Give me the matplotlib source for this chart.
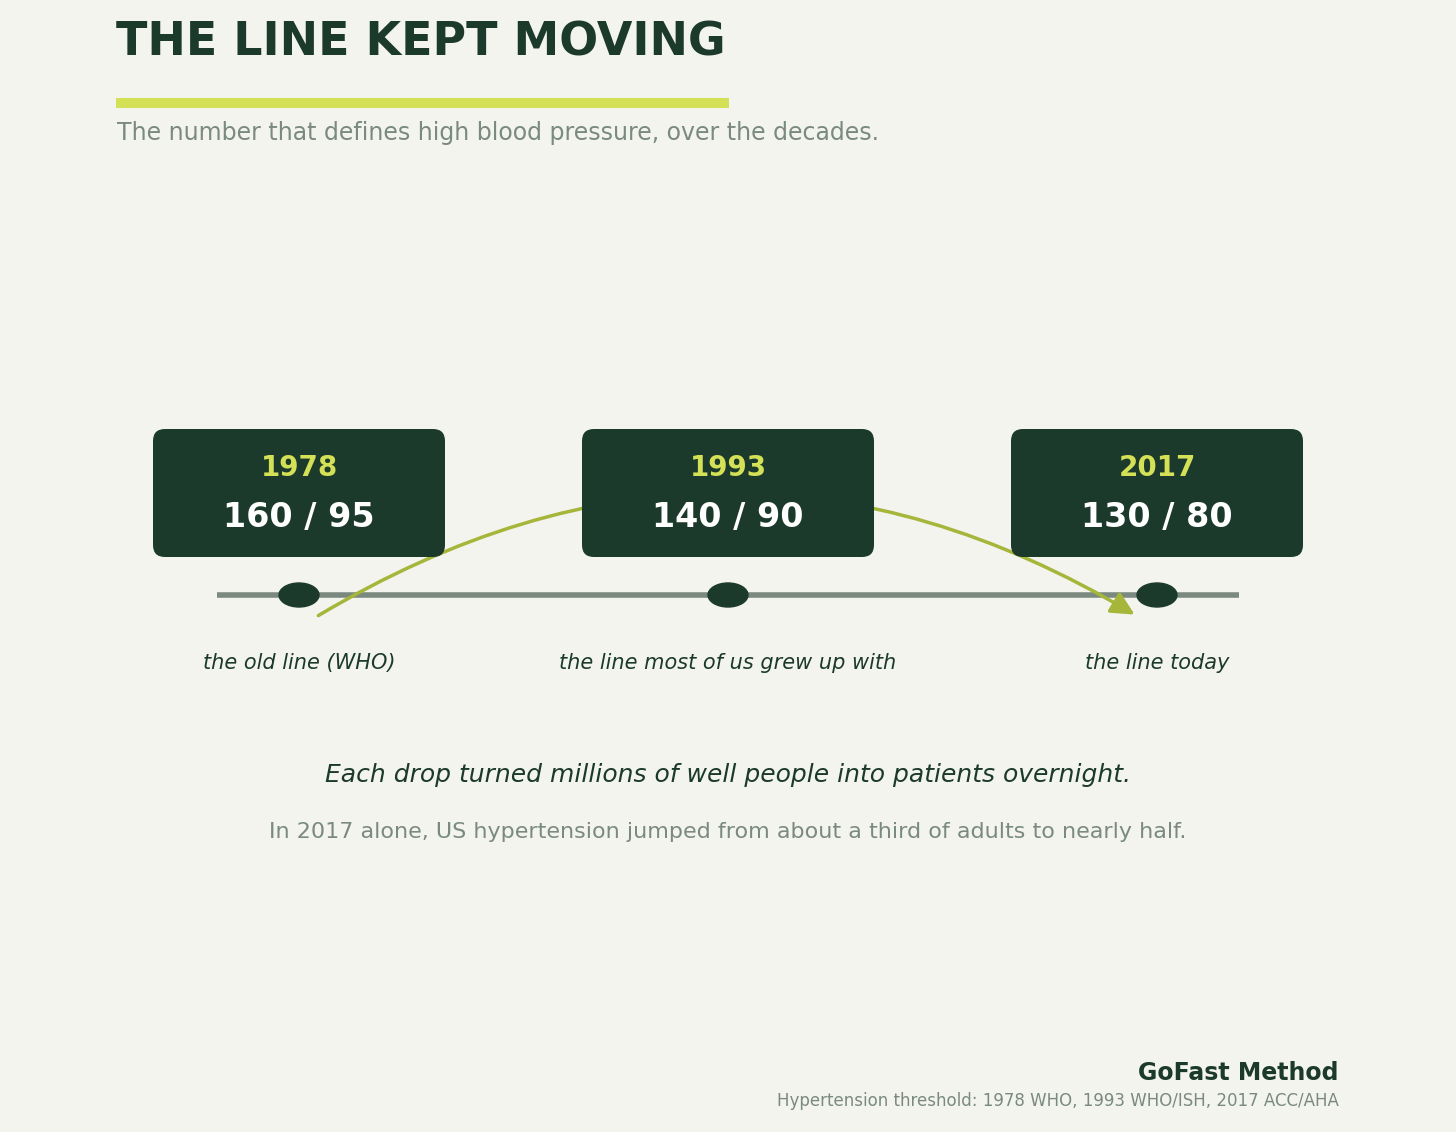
import matplotlib
matplotlib.use("Agg")
import matplotlib.pyplot as plt
from matplotlib.patches import FancyBboxPatch, Ellipse, FancyArrowPatch

BG = "#f4f4ef"
DARK = "#1c3a2c"
GRAY = "#7a8a80"
LIME = "#d4e157"
OLIVE = "#a5b63a"

years = ["1978", "1993", "2017"]
values = ["160 / 95", "140 / 90", "130 / 80"]
labels = ["the old line (WHO)", "the line most of us grew up with", "the line today"]
xpos = [299, 728, 1157]

fig = plt.figure(figsize=(14.56, 11.32), dpi=100)
fig.patch.set_facecolor(BG)
ax = fig.add_axes([0, 0, 1, 1])
ax.set_xlim(0, 1456)
ax.set_ylim(1132, 0)
ax.axis("off")

ax.text(116, 43, "THE LINE KEPT MOVING", fontsize=33, fontweight="bold",
        color=DARK, va="center", ha="left")
ax.add_patch(plt.Rectangle((116, 98), 613, 10, color=LIME, lw=0))
ax.text(117, 133, "The number that defines high blood pressure, over the decades.",
        fontsize=17, color=GRAY, va="center", ha="left")

ax.plot([217, 1239], [595, 595], color=GRAY, lw=4, solid_capstyle="butt", zorder=1)

arc = FancyArrowPatch((316, 617), (1137, 616), connectionstyle="arc3,rad=-0.3",
                      arrowstyle="-|>,head_length=14,head_width=7",
                      color=OLIVE, lw=2.5, zorder=2, mutation_scale=1)
ax.add_patch(arc)

for x, yr, val, lab in zip(xpos, years, values, labels):
    ax.add_patch(FancyBboxPatch((x - 139, 436), 278, 114,
                                boxstyle="round,pad=7,rounding_size=12",
                                fc=DARK, ec="none", zorder=3))
    ax.text(x, 468, yr, fontsize=20, fontweight="bold", color=LIME,
            ha="center", va="center", zorder=4)
    ax.text(x, 517, val, fontsize=24, fontweight="bold", color="white",
            ha="center", va="center", zorder=4)
    ax.add_patch(Ellipse((x, 595), 40, 24, color=DARK, zorder=3))
    ax.text(x, 663, lab, fontsize=15, style="italic", color=DARK,
            ha="center", va="center")

ax.text(728, 775, "Each drop turned millions of well people into patients overnight.",
        fontsize=18, style="italic", color=DARK, ha="center", va="center")
ax.text(728, 832, "In 2017 alone, US hypertension jumped from about a third of adults to nearly half.",
        fontsize=16, color=GRAY, ha="center", va="center")

ax.text(1339, 1073, "GoFast Method", fontsize=17, fontweight="bold", color=DARK,
        ha="right", va="center")
ax.text(1339, 1101, "Hypertension threshold: 1978 WHO, 1993 WHO/ISH, 2017 ACC/AHA",
        fontsize=12, color=GRAY, ha="right", va="center")

fig.savefig("out.png", dpi=100, facecolor=BG)
